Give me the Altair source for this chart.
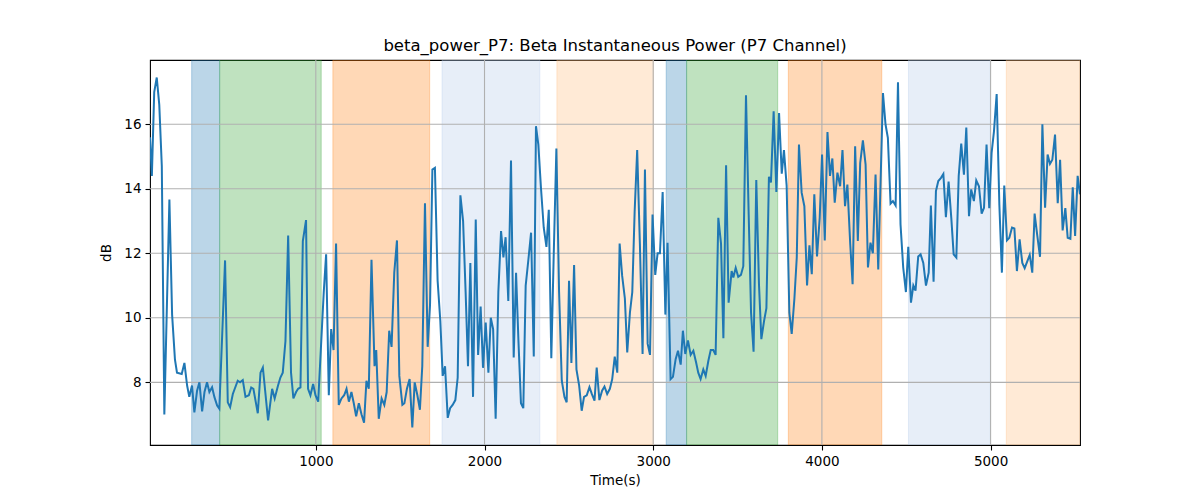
import altair as alt
import pandas as pd

# beta power samples, P7 channel (time in s, power in dB)
times = [
    17, 28, 42, 57, 72, 87, 102, 132, 148, 165, 177, 205, 221, 237, 250, 266, 280, 296, 310, 326,
    340, 355, 369, 385, 399, 415, 428, 462, 478, 492, 508, 537, 551, 567, 583, 603, 617, 630, 656, 672,
    686, 717, 741, 756, 776, 790, 804, 820, 836, 853, 867, 883, 895, 909, 923, 942, 954, 968, 984, 998,
    1014, 1047, 1061, 1077, 1091, 1105, 1120, 1136, 1152, 1168, 1182, 1196, 1211, 1225, 1239, 1255, 1271, 1286, 1300, 1314,
    1330, 1348, 1358, 1373, 1390, 1406, 1420, 1435, 1449, 1465, 1481, 1495, 1513, 1525, 1540, 1556, 1572, 1586, 1602, 1617,
    1631, 1647, 1663, 1677, 1691, 1706, 1722, 1738, 1752, 1766, 1782, 1796, 1811, 1827, 1841, 1857, 1873, 1888, 1902, 1916,
    1932, 1948, 1962, 1977, 1991, 2007, 2023, 2037, 2051, 2066, 2082, 2098, 2112, 2125, 2141, 2157, 2173, 2187, 2201, 2216,
    2230, 2244, 2260, 2276, 2292, 2305, 2319, 2335, 2351, 2367, 2381, 2396, 2410, 2426, 2442, 2458, 2474, 2487, 2501, 2515,
    2531, 2545, 2561, 2576, 2590, 2606, 2622, 2636, 2652, 2665, 2681, 2697, 2711, 2727, 2743, 2757, 2772, 2787, 2801, 2816,
    2832, 2846, 2862, 2876, 2890, 2905, 2921, 2937, 2951, 2967, 2981, 2996, 3012, 3026, 3040, 3056, 3072, 3085, 3103, 3117,
    3133, 3147, 3163, 3176, 3190, 3206, 3222, 3238, 3254, 3267, 3281, 3297, 3311, 3327, 3341, 3356, 3370, 3386, 3402, 3416,
    3432, 3447, 3465, 3475, 3489, 3504, 3520, 3534, 3550, 3566, 3580, 3595, 3611, 3627, 3641, 3657, 3671, 3686, 3698, 3714,
    3730, 3746, 3762, 3775, 3791, 3807, 3821, 3837, 3851, 3864, 3880, 3896, 3912, 3926, 3940, 3955, 3971, 3987, 4001, 4017,
    4033, 4048, 4062, 4076, 4092, 4108, 4122, 4137, 4151, 4168, 4182, 4197, 4213, 4227, 4243, 4259, 4273, 4288, 4302, 4318,
    4334, 4362, 4377, 4391, 4407, 4421, 4437, 4451, 4466, 4482, 4498, 4512, 4528, 4542, 4555, 4571, 4585, 4601, 4617, 4633,
    4646, 4662, 4676, 4690, 4706, 4720, 4735, 4751, 4767, 4781, 4797, 4811, 4826, 4842, 4856, 4872, 4885, 4901, 4915, 4931,
    4947, 4961, 4976, 4992, 5006, 5020, 5036, 5052, 5067, 5081, 5097, 5111, 5127, 5141, 5156, 5172, 5188, 5202, 5218, 5232,
    5247, 5261, 5277, 5293, 5307, 5323, 5338, 5352, 5366, 5382, 5398, 5412, 5427, 5443, 5457, 5473, 5487, 5501, 5516, 5530,
]
power_db = [
    15.6, 14.4, 17.0, 17.45, 16.6, 14.7, 7.0, 13.67, 10.1, 8.7, 8.3, 8.26, 8.6, 7.9, 7.55, 7.9, 7.07, 7.74, 8.0, 7.1,
    7.7, 8.0, 7.7, 7.85, 7.54, 7.28, 7.18, 11.78, 7.38, 7.23, 7.64, 8.05, 8.0, 8.07, 7.55, 7.6, 7.84, 7.8, 7.04, 8.3,
    8.46, 6.82, 7.8, 7.5, 7.9, 8.15, 8.3, 9.28, 12.55, 8.3, 7.5, 7.7, 7.8, 7.84, 12.38, 13.03, 7.8, 7.6, 7.95, 7.6,
    7.4, 10.8, 11.97, 7.6, 9.65, 9.0, 12.3, 7.3, 7.5, 7.6, 7.8, 7.4, 7.7, 7.35, 6.95, 7.35, 7.0, 6.75, 8.05, 7.8,
    11.8, 8.5, 9.0, 6.87, 7.5, 7.3, 7.7, 9.6, 9.1, 11.4, 12.4, 8.2, 7.3, 7.35, 7.8, 8.1, 6.6, 8.0, 7.6, 7.15,
    8.5, 13.55, 9.1, 10.4, 14.6, 14.65, 11.15, 9.9, 8.2, 8.5, 6.9, 7.2, 7.3, 7.45, 8.15, 13.8, 13.0, 10.8, 8.5, 11.7,
    7.55, 13.05, 8.85, 10.35, 8.45, 9.85, 8.3, 10.0, 9.65, 6.87, 10.8, 12.69, 11.87, 12.5, 10.52, 14.88, 8.77, 11.4, 9.3, 7.35,
    7.2, 11.0, 11.8, 12.64, 8.8, 15.94, 15.37, 14.0, 12.8, 12.2, 13.35, 8.75, 11.9, 15.25, 10.8, 8.05, 7.55, 7.38, 11.15, 8.6,
    11.64, 8.4, 7.9, 7.12, 7.55, 7.6, 7.85, 7.64, 7.43, 8.46, 7.45, 7.74, 7.87, 7.64, 7.8, 8.1, 8.8, 8.3, 12.3, 11.3,
    10.6, 8.93, 10.16, 10.8, 13.3, 15.2, 12.3, 8.88, 14.6, 9.2, 8.85, 13.2, 11.33, 12.0, 12.0, 13.9, 10.1, 12.33, 8.1, 8.17,
    8.72, 8.98, 8.55, 9.6, 8.88, 9.3, 8.85, 8.98, 8.62, 8.3, 8.1, 8.4, 8.2, 8.67, 9.0, 9.0, 8.85, 13.1, 12.3, 9.37,
    14.73, 10.47, 11.45, 11.25, 11.55, 11.27, 11.33, 11.6, 16.9, 13.2, 10.16, 8.95, 14.27, 11.04, 9.34, 9.9, 10.3, 14.37, 14.2, 16.4,
    13.9, 16.35, 14.47, 15.2, 14.1, 10.16, 9.5, 10.6, 11.87, 15.37, 13.88, 13.46, 11.0, 12.25, 11.35, 13.83, 11.9, 13.1, 15.06, 12.4,
    15.76, 14.4, 14.94, 13.57, 14.5, 14.08, 15.2, 13.46, 14.13, 12.28, 11.04, 15.32, 12.38, 14.8, 15.5, 14.75, 11.56, 12.33, 12.0, 14.44,
    11.5, 16.97, 16.0, 15.58, 13.54, 13.62, 13.48, 17.3, 12.9, 11.56, 10.8, 12.2, 10.47, 11.0, 10.84, 11.9, 11.97, 11.7, 11.0, 11.4,
    13.48, 11.12, 13.93, 14.24, 14.34, 14.46, 13.12, 14.22, 13.1, 11.97, 11.87, 14.4, 15.4, 14.44, 15.9, 13.15, 13.98, 13.62, 14.26, 14.08,
    13.23, 13.41, 15.37, 13.4, 15.11, 15.78, 16.94, 13.5, 11.4, 14.1, 12.4, 12.48, 12.8, 12.77, 11.45, 12.43, 11.7, 11.54, 11.76, 11.95,
    11.4, 13.23, 12.54, 11.89, 16.0, 13.41, 15.06, 14.77, 14.9, 15.68, 13.55, 14.9, 12.71, 13.4, 12.48, 12.45, 14.05, 12.54, 14.4, 13.83,
]

# shaded segments
band_start = [264, 430, 1101, 1748, 2429, 3077, 3198, 3801, 4513, 5093]
band_end = [430, 1032, 1675, 2328, 3002, 3198, 3738, 4355, 4998, 5530]
band_kind = ["k1", "k2", "k3", "k4", "k5", "k1", "k2", "k3", "k4", "k5"]

x_ticks = [1000, 2000, 3000, 4000, 5000]
y_ticks = [8, 10, 12, 14, 16]

FONT = "DejaVu Sans"


def main() -> None:
    df = pd.DataFrame({"time": times, "db": power_db})
    bands = pd.DataFrame({"start": band_start, "end": band_end, "kind": band_kind})

    lo, hi = min(power_db), max(power_db)
    pad = (hi - lo) * 0.05
    x_scale = alt.Scale(domain=[times[0], times[-1]], nice=False, zero=False)
    y_scale = alt.Scale(domain=[lo - pad, hi + pad], nice=False, zero=False)

    band_colors = alt.Scale(
        domain=["k1", "k2", "k3", "k4", "k5"],
        range=["#1f77b4", "#2ca02c", "#ff7f0e", "#aec7e8", "#ffbb78"],
    )

    shade = (
        alt.Chart(bands)
        .mark_rect(fillOpacity=0.3, strokeOpacity=0.3, strokeWidth=1, clip=True)
        .encode(
            x=alt.X("start:Q", scale=x_scale),
            x2="end:Q",
            fill=alt.Fill("kind:N", scale=band_colors, legend=None),
            stroke=alt.Stroke("kind:N", scale=band_colors, legend=None),
        )
    )

    hgrid = (
        alt.Chart(pd.DataFrame({"v": y_ticks}))
        .mark_rule(color="#b0b0b0", strokeWidth=1.1)
        .encode(y=alt.Y("v:Q", scale=y_scale))
    )
    vgrid = (
        alt.Chart(pd.DataFrame({"v": x_ticks}))
        .mark_rule(color="#b0b0b0", strokeWidth=1.1)
        .encode(x=alt.X("v:Q", scale=x_scale))
    )

    line = (
        alt.Chart(df)
        .mark_line(color="#1f77b4", strokeWidth=2, clip=True)
        .encode(
            x=alt.X(
                "time:Q",
                scale=x_scale,
                title="Time(s)",
                axis=alt.Axis(values=x_ticks, grid=False, format="d"),
            ),
            y=alt.Y(
                "db:Q",
                scale=y_scale,
                title="dB",
                axis=alt.Axis(values=y_ticks, grid=False, format="d"),
            ),
        )
    )

    chart = (
        alt.layer(shade, hgrid, vgrid, line)
        .properties(
            width=930,
            height=385,
            title="beta_power_P7: Beta Instantaneous Power (P7 Channel)",
            autosize=alt.AutoSizeParams(type="none"),
            padding={"left": 142, "top": 52, "right": 110, "bottom": 47},
        )
        .configure_view(stroke="black", strokeWidth=1.1)
        .configure_axis(
            domain=False,
            ticks=True,
            tickSize=5,
            tickColor="black",
            tickWidth=1.1,
            labelFont=FONT,
            labelFontSize=13.5,
            labelColor="black",
            labelPadding=4,
            titleFont=FONT,
            titleFontSize=13.5,
            titleFontWeight="normal",
            titleColor="black",
        )
        .configure_axisX(titlePadding=6)
        .configure_axisY(titlePadding=10)
        .configure_title(
            font=FONT, fontSize=16.5, fontWeight="normal", color="black", offset=5
        )
    )

    chart.save("out.html", embed_options={"renderer": "svg", "actions": False})


if __name__ == "__main__":
    main()
